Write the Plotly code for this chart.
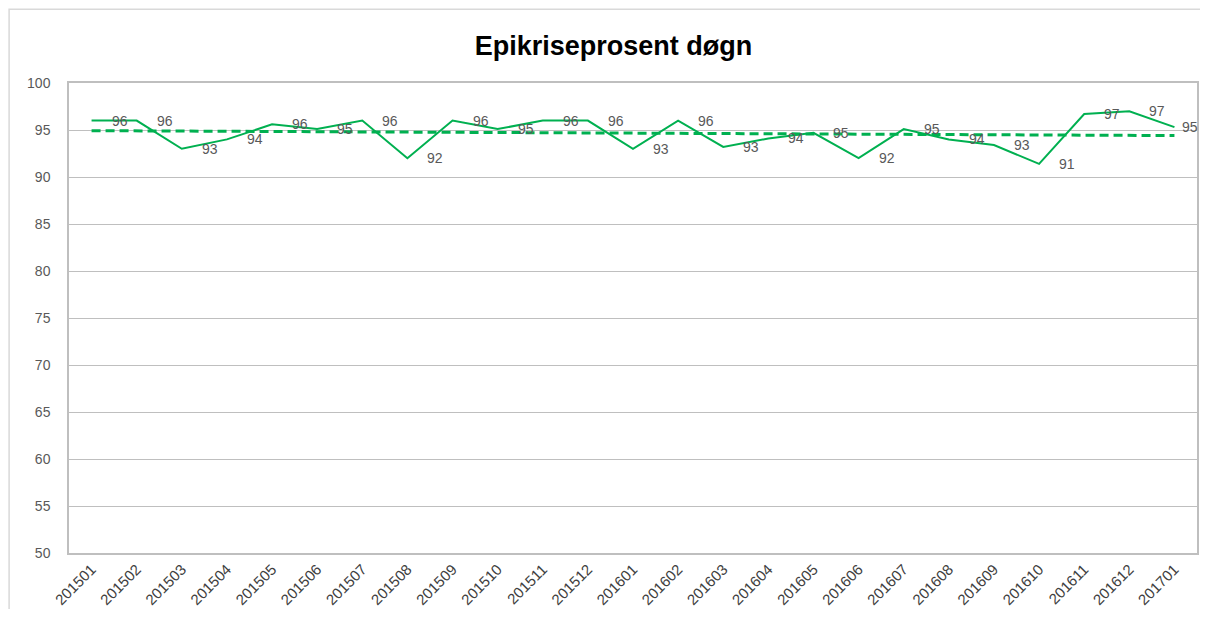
import numpy as np
import plotly.graph_objects as go

categories = ["201501", "201502", "201503", "201504", "201505", "201506", "201507",
              "201508", "201509", "201510", "201511", "201512", "201601", "201602",
              "201603", "201604", "201605", "201606", "201607", "201608", "201609",
              "201610", "201611", "201612", "201701"]
values = [96.0, 96.0, 93.0, 94.0, 95.6, 95.1, 96.0, 92.0, 96.0, 95.1, 96.0, 96.0,
          93.0, 96.0, 93.2, 94.1, 94.7, 92.0, 95.1, 94.0, 93.4, 91.4, 96.7, 97.0, 95.3]
y_ticks = [50, 55, 60, 65, 70, 75, 80, 85, 90, 95, 100]

GREEN = "#00B050"
GRAY_TXT = "#595959"
GRID = "#BFBFBF"
FONT = "Liberation Sans, Arial, sans-serif"

idx = np.arange(len(values))
slope, intercept = np.polyfit(idx, values, 1)
trend = (intercept + slope * idx).tolist()

fig = go.Figure()
fig.add_trace(go.Scatter(x=categories, y=values, mode="lines",
                         line=dict(color=GREEN, width=2), showlegend=False,
                         hoverinfo="x+y"))
fig.add_trace(go.Scatter(x=categories, y=trend, mode="lines",
                         line=dict(color=GREEN, width=3, dash="9px,5px"),
                         showlegend=False, hoverinfo="skip"))

last = len(values) - 1
for i, v in enumerate(values):
    if i == last:
        # keep the final label inside the visible area
        fig.add_annotation(x=i, y=v, xref="x", yref="y", text=str(int(round(v))),
                           showarrow=False, xanchor="left", xshift=6,
                           font=dict(family=FONT, size=14, color=GRAY_TXT))
    else:
        fig.add_annotation(x=i, y=v, xref="x", yref="y", text=str(int(round(v))),
                           showarrow=False, xshift=28,
                           font=dict(family=FONT, size=14, color=GRAY_TXT))

# outer chart border
fig.add_shape(type="rect", xref="paper", yref="paper",
              x0=-0.0531, x1=1.02, y0=-0.2, y1=1.157,
              line=dict(color="#D9D9D9", width=1.5), layer="below")

fig.update_layout(
    width=1192, height=601,
    margin=dict(l=61, r=1, t=75, b=54),
    paper_bgcolor="white", plot_bgcolor="white",
    title=dict(text="<b>Epikriseprosent døgn</b>", x=0.508, xanchor="center",
               y=0.938, yanchor="middle",
               font=dict(family=FONT, size=27, color="black")),
    xaxis=dict(type="category", tickangle=-45, showgrid=False,
               showline=True, linecolor=GRID, linewidth=1.5, mirror=True,
               ticks="", tickfont=dict(family=FONT, size=15, color="#404040"),
               range=[-0.5, len(categories) - 0.5]),
    yaxis=dict(range=[50, 100], tickvals=y_ticks, showgrid=True, gridcolor=GRID,
               gridwidth=1, showline=True, linecolor=GRID, linewidth=1.5, mirror=True,
               zeroline=False, ticks="", ticklabelstandoff=14,
               tickfont=dict(family=FONT, size=14, color=GRAY_TXT)),
)

fig.write_html("out.html")
